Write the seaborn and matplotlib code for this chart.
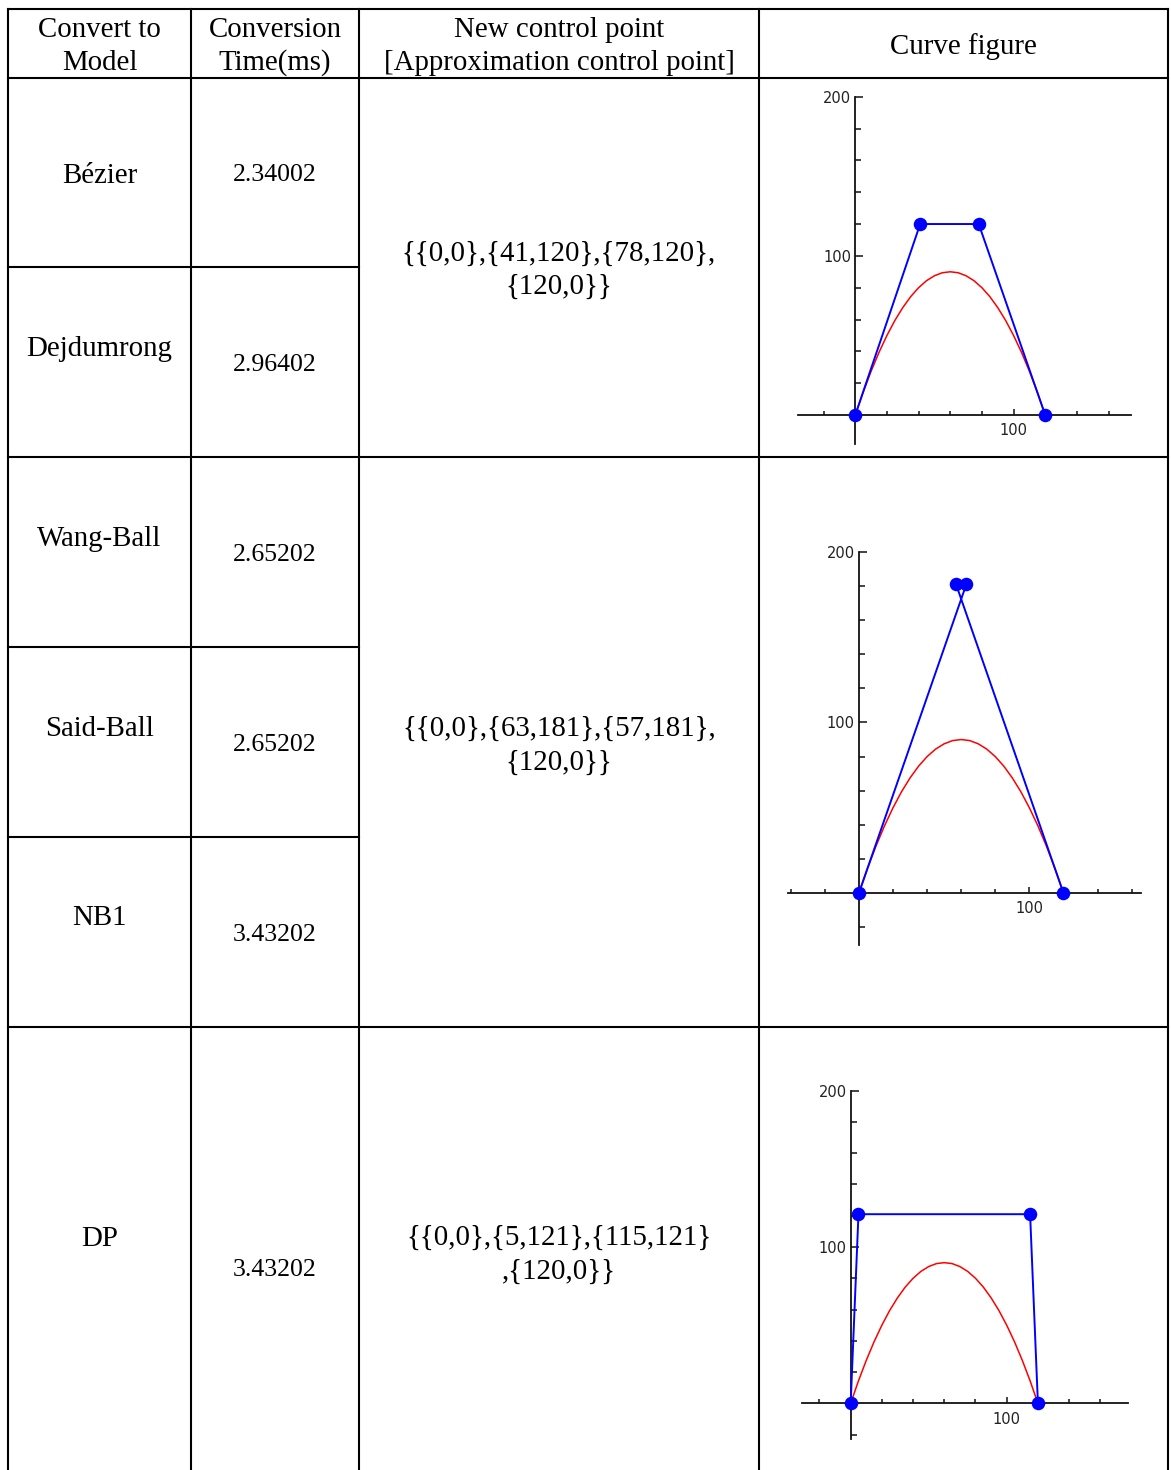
import matplotlib
matplotlib.use("Agg")
import matplotlib.pyplot as plt
import seaborn as sns
from matplotlib.ticker import FixedLocator

# ---------------- data ----------------
header_col0 = ["Convert to", "Model"]
header_col1 = ["Conversion", "Time(ms)"]
header_col2 = ["New control point", "[Approximation control point]"]
header_col3 = ["Curve figure"]

models = ["Bézier", "Dejdumrong", "Wang-Ball", "Said-Ball", "NB1", "DP"]
conv_times = ["2.34002", "2.96402", "2.65202", "2.65202", "3.43202", "3.43202"]

ctrl_text_1 = ["{{0,0},{41,120},{78,120},", "{120,0}}"]
ctrl_text_2 = ["{{0,0},{63,181},{57,181},", "{120,0}}"]
ctrl_text_3 = ["{{0,0},{5,121},{115,121}", ",{120,0}}"]

cp_x_1 = [0, 41, 78, 120]
cp_y_1 = [0, 120, 120, 0]
cp_x_2 = [0, 63, 57, 120]
cp_y_2 = [0, 181, 181, 0]
cp_x_3 = [0, 5, 115, 120]
cp_y_3 = [0, 121, 121, 0]

# red curve (original curve)
curve_x = [0, 5, 10, 15, 20, 25, 30, 35, 40, 45, 50, 55, 60,
           65, 70, 75, 80, 85, 90, 95, 100, 105, 110, 115, 120]
curve_y = [0, 14.4, 27.5, 39.4, 50, 59.4, 67.5, 74.4, 80, 84.4, 87.5, 89.4, 90,
           89.4, 87.5, 84.4, 80, 74.4, 67.5, 59.4, 50, 39.4, 27.5, 14.4, 0]

# ---------------- style ----------------
sns.set_style("white")
plt.rcParams["font.family"] = ["Liberation Serif", "DejaVu Serif"]
plt.rcParams["text.color"] = "black"

W, H = 1171, 1470
fig = plt.figure(figsize=(W / 100, H / 100), dpi=100)
bg = fig.add_axes([0, 0, 1, 1])
bg.set_xlim(0, W)
bg.set_ylim(H, 0)
bg.axis("off")

LW = 1.5
def hline(y, x0, x1):
    bg.plot([x0, x1], [y, y], color="black", lw=LW, solid_capstyle="projecting")
def vline(x, y0, y1):
    bg.plot([x, x], [y0, y1], color="black", lw=LW, solid_capstyle="projecting")

cols = [8, 191, 359, 759, 1168]
top = 9
for x in cols:
    vline(x, top, H + 5)
hline(top, cols[0], cols[-1])
hline(78, cols[0], cols[-1])
hline(457, cols[0], cols[-1])
hline(1027, cols[0], cols[-1])
for y in [267, 647, 837]:
    hline(y, cols[0], cols[2])

FS = 20.8
FS_T = 18.5

def txt(x, yc, s, fs=FS):
    bg.text(x, yc + 0.33 * fs * 1.389, s, ha="center", va="baseline", fontsize=fs,
            color="black")

cx = [(cols[i] + cols[i + 1]) / 2 for i in range(4)]
txt(cx[0], 27, header_col0[0]); txt(cx[0], 60, header_col0[1])
txt(cx[1], 27, header_col1[0]); txt(cx[1], 60, header_col1[1])
txt(cx[2], 27, header_col2[0]); txt(cx[2], 60, header_col2[1])
txt(cx[3], 44, header_col3[0])

name_y = [173, 346, 536, 726, 915, 1236]
time_y = [173, 363, 553, 743, 933, 1268]
for m, yv in zip(models, name_y):
    txt(cx[0], yv, m)
for t, yv in zip(conv_times, time_y):
    txt(cx[1], yv, t, FS_T)

for lines, ys in [(ctrl_text_1, (251, 284)), (ctrl_text_2, (726, 760)), (ctrl_text_3, (1235, 1269))]:
    for s, yv in zip(lines, ys):
        txt(cx[2], yv, s)

# ---------------- mini plots ----------------
def mini(px_left, px_right, px_top, px_bottom, xlim, ylim, cpx, cpy):
    ax = fig.add_axes([px_left / W, 1 - px_bottom / H,
                       (px_right - px_left) / W, (px_bottom - px_top) / H])
    ax.set_facecolor("none")
    sns.lineplot(x=curve_x, y=curve_y, ax=ax, color="#ff0000", lw=1.1,
                 sort=False, estimator=None, zorder=3)
    sns.lineplot(x=cpx, y=cpy, ax=ax, color="#0000ff", lw=1.4,
                 sort=False, estimator=None, zorder=4)
    sns.scatterplot(x=cpx, y=cpy, ax=ax, color="#0000ff", s=95, linewidth=0,
                    zorder=5, clip_on=False)
    ax.set_xlim(*xlim)
    ax.set_ylim(*ylim)
    ax.set_xlabel("")
    ax.set_ylabel("")
    for s in ["top", "right"]:
        ax.spines[s].set_visible(False)
    ax.spines["left"].set_position(("data", 0))
    ax.spines["bottom"].set_position(("data", 0))
    for s in ["left", "bottom"]:
        ax.spines[s].set_color("#111111")
        ax.spines[s].set_linewidth(1.3)
        ax.spines[s].set_zorder(2)
    ax.xaxis.set_major_locator(FixedLocator([100]))
    ax.xaxis.set_minor_locator(FixedLocator([-40, -20, 20, 40, 60, 80, 120, 140, 160]))
    ax.yaxis.set_major_locator(FixedLocator([100, 200]))
    ax.yaxis.set_minor_locator(FixedLocator([-20, 20, 40, 60, 80, 120, 140, 160, 180]))
    ax.tick_params(axis="both", which="both", direction="in", color="#111111", width=1.1,
                   labelsize=10.5, labelcolor="#222222",
                   bottom=True, left=True, top=False, right=False)
    ax.tick_params(axis="y", which="major", length=6, pad=3)
    ax.tick_params(axis="y", which="minor", length=4)
    ax.tick_params(axis="x", which="major", length=4.5, pad=6)
    ax.tick_params(axis="x", which="minor", length=3)
    for lab in ax.get_xticklabels() + ax.get_yticklabels():
        lab.set_family("DejaVu Sans")
    ax.grid(False)
    return ax

mini(798.3, 1130.7, 96.7, 444, (-36, 174), (-18.2, 200), cp_x_1, cp_y_1)
mini(788.2, 1141.0, 552.0, 945, (-41.5, 165.5), (-30.5, 200), cp_x_2, cp_y_2)
mini(802.3, 1128.4, 1090.7, 1439.3, (-31, 178), (-23, 200), cp_x_3, cp_y_3)

fig.savefig("out.png", dpi=100, facecolor="white")
